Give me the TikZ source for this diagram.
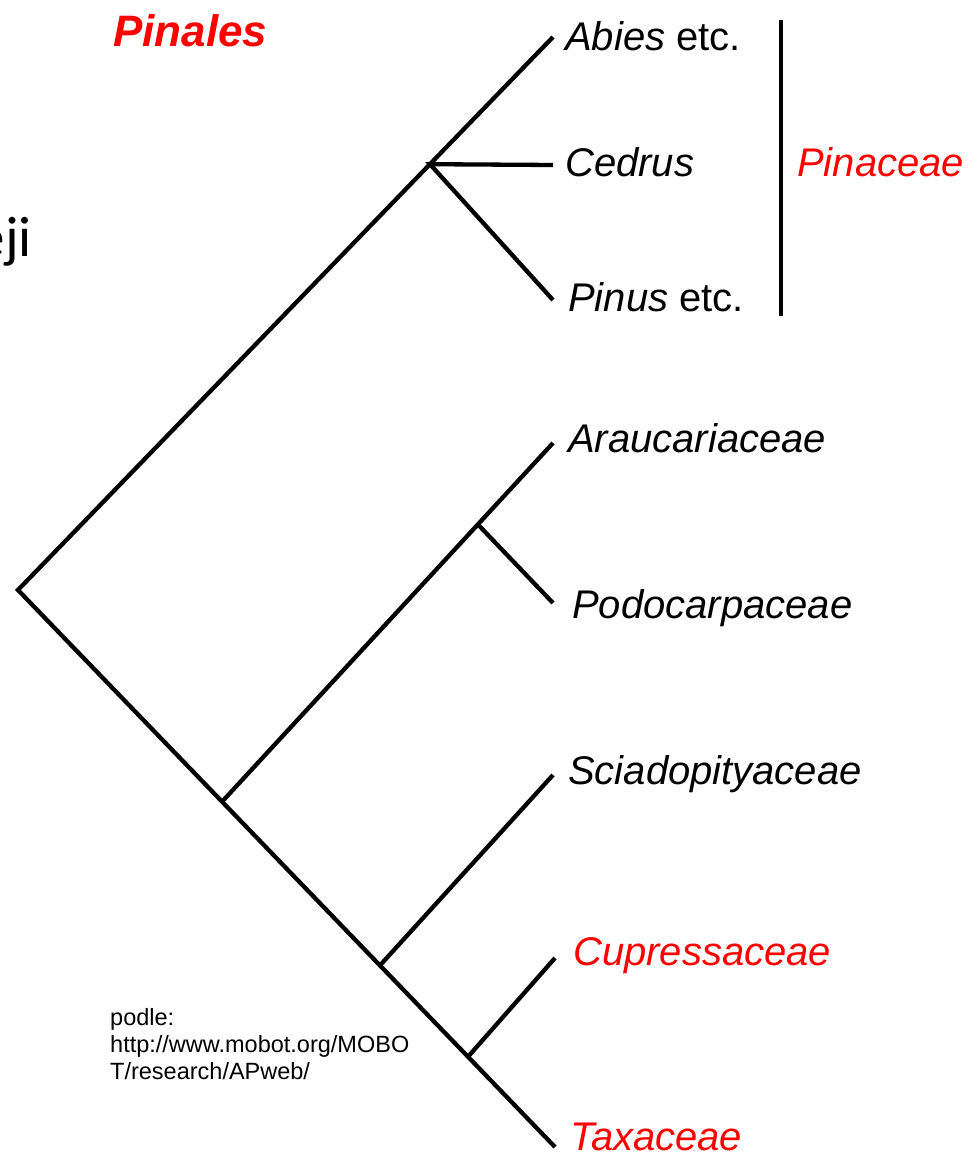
\documentclass[tikz,border=0pt]{standalone}
\usepackage{fontspec}
\setmainfont{Liberation Sans}
\newfontfamily\czfont{Carlito}
\usetikzlibrary{calc}

\begin{document}
\begin{tikzpicture}[x=1pt,y=-1pt,
  branch/.style={line width=4.3pt},
  taxon/.style={anchor=base west, inner sep=0pt, font=\fontsize{40}{48}\selectfont\itshape},
  redtaxon/.style={taxon, text=red}]
  \useasboundingbox (0,0) rectangle (978,1155);

  % leaves and forks
  \coordinate (root) at (18,590);
  \coordinate (abies) at (553,37);
  \coordinate (cedrus) at (553,165);
  \coordinate (pinus) at (553,300);
  \coordinate (arauc) at (553,443);
  \coordinate (podo) at (553,603);
  \coordinate (sciad) at (553,775);
  \coordinate (cupr) at (555,958);
  \coordinate (taxa) at (555,1147);
  \coordinate (pin) at ($(root)!0.77!(abies)$);
  \coordinate (low) at ($(root)!0.38!(taxa)$);
  \coordinate (sct) at ($(root)!0.674!(taxa)$);
  \coordinate (ct) at ($(root)!0.838!(taxa)$);
  \coordinate (ap) at ($(low)!0.773!(arauc)$);

  \draw[branch] (abies) -- (root) -- (taxa);
  \draw[branch] (cedrus) -- (pin) -- (pinus);
  \draw[branch] (low) -- (arauc);
  \draw[branch] (ap) -- (podo);
  \draw[branch] (sct) -- (sciad);
  \draw[branch] (ct) -- (cupr);

  \node[taxon] (abiesl) at (565,51) {Abies\upshape{} etc.};
  \node[taxon] (cedrusl) at (565,177) {Cedrus};
  \node[taxon] (pinusl) at (568,312) {Pinus\upshape{} etc.};
  \node[taxon] (araucl) at (568,452) {Araucariaceae};
  \node[taxon] (podol) at (572,618) {Podocarpaceae};
  \node[taxon] (sciadl) at (568,784) {Sciadopityaceae};
  \node[redtaxon] (cuprl) at (573,965) {Cupressaceae};
  \node[redtaxon] (taxal) at (570,1150) {Taxaceae};

  % family bar
  \coordinate (bartop) at (781,20);
  \coordinate (barbot) at (781,316);
  \draw[line width=3.8pt] (bartop) -- (barbot);
  \node[redtaxon] (pinaceae) at (797,177) {Pinaceae};

  \node[anchor=base west, inner sep=0pt, text=red,
    font=\fontsize{44}{52}\selectfont\bfseries\itshape] (title) at (113,47) {Pinales};
  \node[anchor=base east, inner sep=0pt, font=\czfont\fontsize{57}{64}\selectfont] (cut) at (32,257) {ěji};

  \node[anchor=base west, inner sep=0pt, align=left,
    font=\fontsize{23.5}{27}\selectfont] (src) at (110,1079)
    {podle:\\http://www.mobot.org/MOBO\\T/research/APweb/};
\end{tikzpicture}
\end{document}
